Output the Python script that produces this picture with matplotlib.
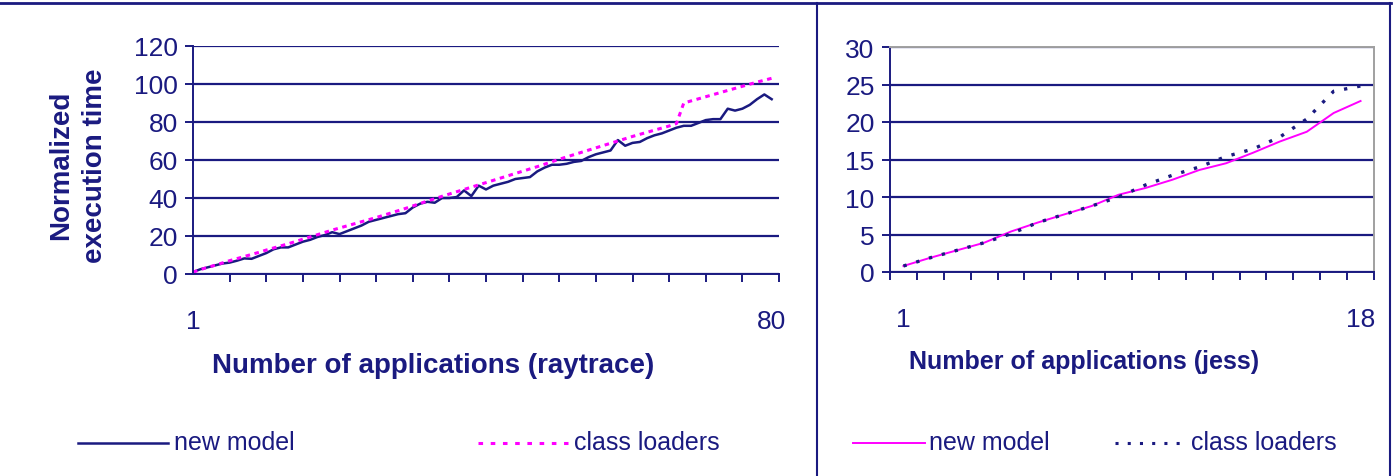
import matplotlib
matplotlib.use("Agg")
import matplotlib.pyplot as plt
from matplotlib.lines import Line2D

plt.rcParams["font.family"] = ["Liberation Sans", "DejaVu Sans"]

NAVY = "#1a1a80"
MAGENTA = "#ff00ff"
FRAME_GREY = "#a0a0a0"

# raytrace: 80 applications
ray_apps = list(range(1, 81))
ray_new_model = [
    1, 2.5, 3.5, 4.5, 5.5, 6, 7, 8.2, 8, 9.5,
    11, 13, 14, 14, 15.5, 17, 18, 19.5, 20.5, 22,
    21, 22.5, 24, 25.5, 27.5, 28.5, 29.5, 30.5, 31.5, 32,
    35, 37, 38, 37.5, 40, 40, 40.5, 44, 41, 46.5,
    44.5, 46.5, 47.5, 48.5, 50, 50.5, 51, 54, 56, 57.5,
    57.5, 58, 59, 59.5, 61.5, 63, 64, 65, 70.5, 67.5,
    69, 69.5, 71.5, 73, 74, 75.5, 77, 78, 78, 79.5,
    81, 81.5, 81.5, 87, 86, 87, 89, 92, 94.5, 92,
]
ray_class_loaders = [
    1, 2.3, 3.5, 4.6, 5.8, 7, 8.1, 9.2, 10.3, 11.4,
    12.6, 13.7, 14.8, 15.9, 17.1, 18.3, 19.5, 20.7, 21.9, 23.1,
    24.2, 25.3, 26.4, 27.5, 28.6, 29.7, 30.9, 32.1, 33.3, 34.5,
    35.8, 37.1, 38.4, 39.6, 40.9, 42.1, 43.3, 44.5, 45.7, 46.9,
    48.1, 49.3, 50.5, 51.7, 52.9, 54.1, 55.3, 56.5, 57.8, 59.1,
    60.4, 61.6, 62.8, 64, 65.2, 66.4, 67.6, 68.8, 70, 71.2,
    72.4, 73.5, 74.6, 75.7, 76.8, 77.9, 79.2, 90, 91.1, 92.2,
    93.3, 94.4, 95.5, 96.6, 97.7, 98.8, 99.9, 101, 102, 103,
]

# jess: 18 applications
jess_apps = list(range(1, 19))
jess_new_model = [0.8, 1.9, 2.9, 3.9, 5.4, 6.6, 7.7, 8.8, 10.3,
                  11.2, 12.3, 13.6, 14.5, 15.9, 17.4, 18.7, 21.2, 22.8]
jess_class_loaders = [0.8, 1.9, 2.9, 3.9, 5.1, 6.6, 7.7, 8.8, 10.0,
                      11.6, 12.9, 14.0, 15.4, 16.4, 18.0, 20.4, 24.1, 24.8]

W, H = 1393, 477


def box(x0, y_top, x1, y_bot):
    return [x0 / W, 1 - y_bot / H, (x1 - x0) / W, (y_bot - y_top) / H]


def style_axes(ax, yticks, minor_x, major_x, major_labels, frame):
    ax.set_yticks(yticks)
    ax.set_yticklabels([str(v) for v in yticks])
    ax.set_xticks(major_x)
    ax.set_xticklabels(major_labels)
    ax.set_xticks(minor_x, minor=True)
    ax.grid(axis="y", color=NAVY, linewidth=1.6)
    ax.set_axisbelow(True)
    for side in ["left", "bottom"]:
        ax.spines[side].set_color(NAVY)
        ax.spines[side].set_linewidth(1.4)
    for side in ["top", "right"]:
        if frame:
            ax.spines[side].set_color(FRAME_GREY)
            ax.spines[side].set_linewidth(1.4)
        else:
            ax.spines[side].set_visible(False)
    ax.tick_params(axis="y", colors=NAVY, labelsize=19, length=6, width=1.4,
                   pad=5, labelcolor=NAVY)
    ax.tick_params(axis="x", which="major", length=0, labelsize=19,
                   labelcolor=NAVY, pad=25)
    ax.tick_params(axis="x", which="minor", length=6, width=1.4, color=NAVY)


fig = plt.figure(figsize=(W / 100, H / 100), dpi=100)

# ── left panel: raytrace ───────────────────────────────────────────────
ax1 = fig.add_axes(box(193, 47, 779, 275))
ax1.plot(ray_apps, ray_new_model, color=NAVY, linewidth=1.8)
ax1.plot(ray_apps, ray_class_loaders, color=MAGENTA, linewidth=2.2,
         linestyle=(0, (1.5, 1.5)))
ax1.set_xlim(1, 81)
ax1.set_ylim(0, 120)
style_axes(ax1, list(range(0, 121, 20)), list(range(1, 82, 5)),
           [1, 80], ["1", "80"], frame=False)

fig.text(433 / W, 1 - 366 / H, "Number of applications (raytrace)",
         ha="center", va="center", fontsize=20, fontweight="bold", color=NAVY)
fig.text(61 / W, 1 - 165 / H, "Normalized", rotation=90, ha="center",
         va="center", fontsize=20, fontweight="bold", color=NAVY)
fig.text(95 / W, 1 - 166 / H, "execution time", rotation=90, ha="center",
         va="center", fontsize=20, fontweight="bold", color=NAVY)

# ── right panel: jess ──────────────────────────────────────────────────
ax2 = fig.add_axes(box(890, 48, 1374, 273))
ax2.plot(jess_apps, jess_new_model, color=MAGENTA, linewidth=1.4)
ax2.plot(jess_apps, jess_class_loaders, color=NAVY, linewidth=2.4,
         linestyle=(0, (1, 3)))
ax2.set_xlim(0.5, 18.5)
ax2.set_ylim(0, 30)
style_axes(ax2, list(range(0, 31, 5)), [v + 0.5 for v in range(0, 19)],
           [1, 18], ["1", "18"], frame=True)

fig.text(1084 / W, 1 - 362 / H, "Number of applications (jess)",
         ha="center", va="center", fontsize=18, fontweight="bold", color=NAVY)

# ── legends ────────────────────────────────────────────────────────────
legend_items = [
    (78, 168, NAVY, "-", 1.8, "new model", 174),
    (478, 568, MAGENTA, (0, (1.5, 2.5)), 2.2, "class loaders", 574),
    (853, 925, MAGENTA, "-", 1.4, "new model", 929),
    (1115, 1188, NAVY, (0, (1, 3)), 2.2, "class loaders", 1191),
]
for x0, x1, col, ls, lw, label, tx in legend_items:
    fig.add_artist(Line2D([x0 / W, x1 / W], [1 - 444 / H, 1 - 444 / H],
                          color=col, linestyle=ls, linewidth=lw))
    fig.text(tx / W, 1 - 443 / H, label, ha="left", va="center",
             fontsize=18, color=NAVY)

# ── outer frame ────────────────────────────────────────────────────────
fig.add_artist(Line2D([0, 1391 / W], [1 - 4 / H, 1 - 4 / H], color=NAVY, linewidth=2))
fig.add_artist(Line2D([817 / W, 817 / W], [0, 1 - 4 / H], color=NAVY, linewidth=1.5))
fig.add_artist(Line2D([1390 / W, 1390 / W], [0, 1 - 4 / H], color=NAVY, linewidth=1.5))

fig.savefig("out.png", dpi=100)
